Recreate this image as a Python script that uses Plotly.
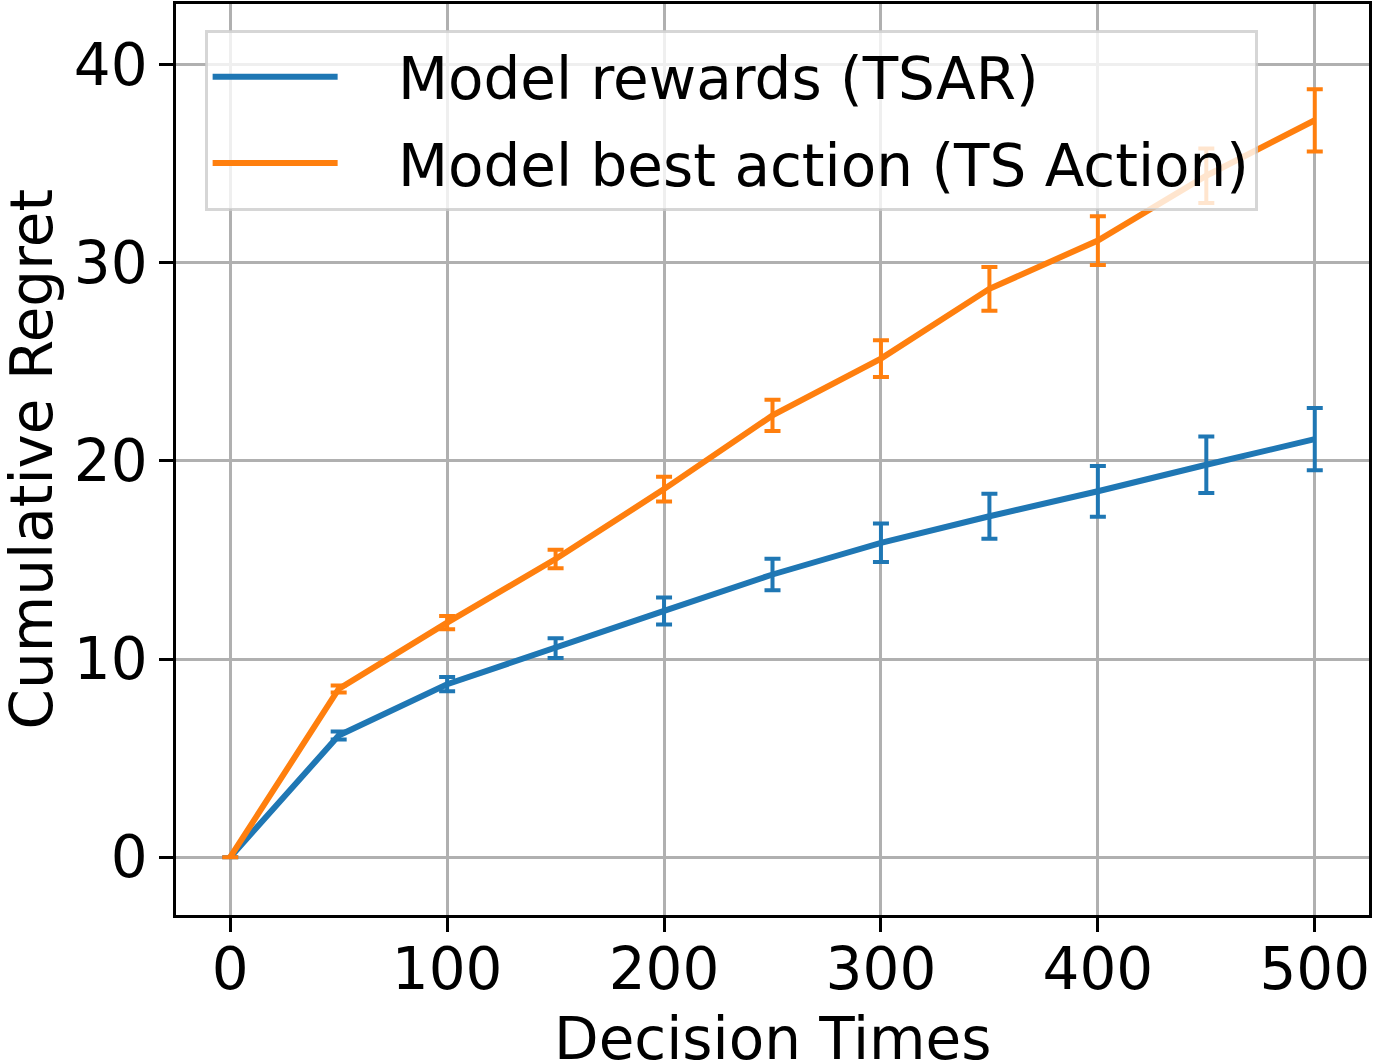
import plotly.graph_objects as go

decision_times = [0, 50, 100, 150, 200, 250, 300, 350, 400, 450, 500]

tsar_mean = [0.0, 6.14, 8.73, 10.55, 12.43, 14.27, 15.87, 17.21, 18.47, 19.81, 21.1]
tsar_err = [0.0, 0.2, 0.36, 0.5, 0.68, 0.8, 0.97, 1.13, 1.28, 1.43, 1.57]

tsaction_mean = [0.0, 8.49, 11.84, 15.05, 18.58, 22.3, 25.17, 28.69, 31.13, 34.4, 37.2]
tsaction_err = [0.0, 0.18, 0.33, 0.47, 0.63, 0.79, 0.93, 1.1, 1.23, 1.38, 1.57]

x_ticks = [0, 100, 200, 300, 400, 500]
y_ticks = [0, 10, 20, 30, 40]

FONT = "DejaVu Sans"
FS = 58
BLUE = "#1f77b4"
ORANGE = "#ff7f0e"
PAD = "\u00a0\u00a0\u00a0"

fig = go.Figure()
fig.add_trace(go.Scatter(
    x=decision_times, y=tsar_mean, mode="lines",
    name=PAD + "Model rewards (TSAR)", legendgroup="a",
    line=dict(color=BLUE, width=6),
    error_y=dict(type="data", array=tsar_err, visible=True, color=BLUE, thickness=4, width=8),
))
fig.add_trace(go.Scatter(
    x=decision_times, y=tsaction_mean, mode="lines",
    name=PAD + "Model best action (TS Action)", legendgroup="b",
    line=dict(color=ORANGE, width=6),
    error_y=dict(type="data", array=tsaction_err, visible=True, color=ORANGE, thickness=4, width=8),
))

fig.update_layout(
    width=1373, height=1064,
    margin=dict(l=176, r=4, t=1, b=149),
    plot_bgcolor="white", paper_bgcolor="white",
    font=dict(family=FONT, size=FS, color="black"),
    showlegend=True,
    legend=dict(
        x=0.024, y=0.972, xanchor="left", yanchor="top",
        bgcolor="rgba(255,255,255,0.8)",
        bordercolor="rgba(204,204,204,0.8)", borderwidth=3,
        font=dict(family=FONT, size=FS, color="black"),
        itemwidth=125,
        tracegroupgap=8,
    ),
    annotations=[
        dict(text="Decision Times", xref="paper", yref="paper",
             x=0.5, y=-(1039 - 915) / 914, xanchor="center", yanchor="middle",
             showarrow=False, font=dict(family=FONT, size=FS, color="black")),
        dict(text="Cumulative Regret", xref="paper", yref="paper",
             x=(31 - 176) / 1193, y=0.5, xanchor="center", yanchor="middle",
             textangle=-90, showarrow=False,
             font=dict(family=FONT, size=FS, color="black")),
    ],
)

fig.update_xaxes(
    range=[-25, 525],
    tickvals=x_ticks, ticktext=[str(v) for v in x_ticks],
    showgrid=True, gridcolor="#b0b0b0", gridwidth=2.5,
    showline=True, linecolor="black", linewidth=2.5, mirror=True,
    ticks="outside", ticklen=14, tickwidth=2.5, tickcolor="black",
    tickfont=dict(family=FONT, size=FS),
    ticklabelstandoff=-12,
    zeroline=False,
)
fig.update_yaxes(
    range=[-2.92, 43.07],
    tickvals=y_ticks, ticktext=[str(v) for v in y_ticks],
    showgrid=True, gridcolor="#b0b0b0", gridwidth=2.5,
    showline=True, linecolor="black", linewidth=2.5, mirror=True,
    ticks="outside", ticklen=14, tickwidth=2.5, tickcolor="black",
    tickfont=dict(family=FONT, size=FS),
    zeroline=False,
)

fig.write_html("out.html")
